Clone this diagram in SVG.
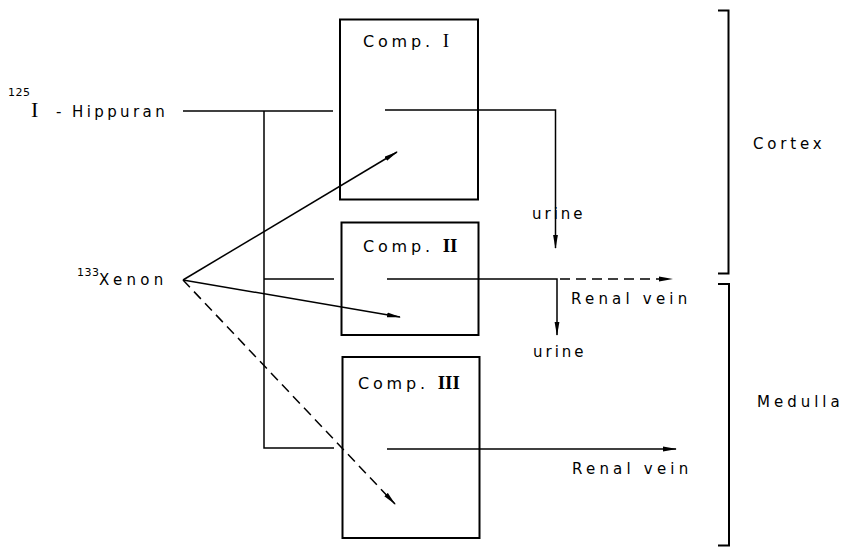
<svg xmlns="http://www.w3.org/2000/svg" width="845" height="547" viewBox="0 0 845 547">
<defs>
<marker id="ah" markerWidth="14" markerHeight="6" refX="13" refY="3" orient="auto" markerUnits="userSpaceOnUse">
<path d="M0,0.6 L14,3 L0,5.4 Z" fill="#000"/>
</marker>
<style>
.box{fill:none;stroke:#000;stroke-width:2}
.ln{fill:none;stroke:#000;stroke-width:1.5}
.dash{stroke-dasharray:10 6}
.t{font-family:"DejaVu Sans","Liberation Sans",sans-serif;font-size:15px;letter-spacing:3.8px;fill:#000}
.u{letter-spacing:3px}
.sup{font-family:"DejaVu Sans","Liberation Sans",sans-serif;font-size:11px;letter-spacing:0.5px;fill:#000}
.rn{font-family:"Liberation Serif",serif;font-size:19px;letter-spacing:0}
.c{font-size:16px;letter-spacing:3.8px}
</style>
</defs>
<rect width="845" height="547" fill="#fff"/>

<g id="hippuran">
<text class="sup" x="8" y="96">125</text>
<text class="t" x="31" y="117"><tspan class="rn" style="font-size:22px">I</tspan><tspan x="56">-</tspan><tspan x="72" style="letter-spacing:3.4px">Hippuran</tspan></text>
</g>
<g id="xenon">
<text class="sup" x="77" y="276">133</text>
<text class="t" x="99" y="285" style="letter-spacing:4.3px">Xenon</text>
</g>

<g id="comp1">
<rect class="box" x="340" y="19.5" width="138" height="180"/>
<text class="t c" x="363" y="47">Comp. <tspan class="rn">I</tspan></text>
</g>
<g id="comp2">
<rect class="box" x="341.5" y="222.5" width="137" height="112.5"/>
<text class="t c" x="363" y="252">Comp. <tspan class="rn" style="font-weight:bold">II</tspan></text>
</g>
<g id="comp3">
<rect class="box" x="342.5" y="357" width="137" height="181"/>
<text class="t c" x="358" y="389">Comp. <tspan class="rn" style="font-weight:bold">III</tspan></text>
</g>

<g id="labels">
<text class="t u" x="532" y="219">urine</text>
<text class="t u" x="533" y="357">urine</text>
<text class="t" x="571" y="304" style="letter-spacing:4.2px">Renal vein</text>
<text class="t" x="572" y="474" style="letter-spacing:4.2px">Renal vein</text>
</g>

<g id="cortex">
<path class="ln" d="M718,10.5 H728.5 V273.5 H718" style="stroke-width:2"/>
<text class="t" x="753" y="149">Cortex</text>
</g>
<g id="medulla">
<path class="ln" d="M718,284 H729 V545.5 H718" style="stroke-width:2"/>
<text class="t" x="757" y="407" style="letter-spacing:4px">Medulla</text>
</g>

<g id="connectors">
<path class="ln" d="M183,111 H333"/>
<path class="ln" d="M264,111 V448 H334"/>
<path class="ln" d="M264,279 H334"/>
<path class="ln" d="M385,110 H555.5 V248" marker-end="url(#ah)"/>
<path class="ln" d="M387,279 H557 V335" marker-end="url(#ah)"/>
<path class="ln dash" d="M560,279 H672" marker-end="url(#ah)"/>
<path class="ln" d="M387,449 H676" marker-end="url(#ah)"/>
<path class="ln" d="M183,280 L397,152" marker-end="url(#ah)"/>
<path class="ln" d="M183,280 L400,317" marker-end="url(#ah)"/>
<path class="ln dash" d="M183,280 L395,504" marker-end="url(#ah)"/>
</g>
</svg>
